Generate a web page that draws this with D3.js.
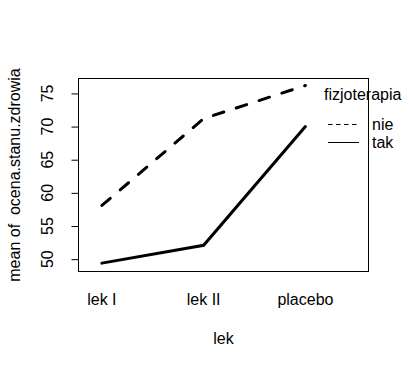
<!DOCTYPE html>
<html><head><meta charset="utf-8">
<script src="https://cdn.jsdelivr.net/npm/d3@7"></script>
<style>body{margin:0;background:#fff}svg{display:block}text{font-family:"Liberation Sans",Arial,sans-serif;font-size:16px;fill:#000}</style>
</head><body><svg id="c" width="409" height="369"></svg>
<script>
const categories = ["lek I", "lek II", "placebo"];
const seriesNames = ["nie", "tak"];
const nieValues = [58.1, 71.2, 76.2];
const takValues = [49.4, 52.1, 70.0];
const yTicks = [50, 55, 60, 65, 70, 75];
const xTitle = "lek";
const yTitle = "mean of  ocena.stanu.zdrowia";
const legendTitle = "fizjoterapia";

const svg = d3.select("#c");
const L = 78.5, R = 368.5, T = 78.5, B = 271.5;
const x = d3.scaleLinear().domain([0.77, 3.62]).range([L, R]);
const y = d3.scaleLinear().domain([48.14, 77.25]).range([B, T]);

svg.append("rect").attr("x", L).attr("y", T).attr("width", R - L).attr("height", B - T)
  .attr("fill", "none").attr("stroke", "#000").attr("stroke-width", 1);

// y axis
const yAxis = svg.append("g").attr("transform", `translate(${L},0)`)
  .call(d3.axisLeft(y).tickValues(yTicks).tickSize(7).tickSizeOuter(0).tickPadding(0));
yAxis.select(".domain").remove();
yAxis.selectAll(".tick line").attr("stroke", "#000");
yAxis.selectAll(".tick text").remove();
svg.append("g").selectAll("text").data(yTicks).join("text")
  .attr("transform", d => `translate(53,${y(d)}) rotate(-90)`)
  .attr("text-anchor", "middle").text(d => d);

// x labels
svg.append("g").selectAll("text").data(categories).join("text")
  .attr("x", (d, i) => x(i + 1)).attr("y", 305).attr("text-anchor", "middle").text(d => d);

svg.append("text").attr("x", (L + R) / 2).attr("y", 344).attr("text-anchor", "middle").text(xTitle);
svg.append("text").attr("transform", `translate(19.5,${(T + B) / 2}) rotate(-90)`)
  .attr("text-anchor", "middle").style("white-space", "pre").attr("xml:space", "preserve").text(yTitle);

const line = d3.line().x((d, i) => x(i + 1)).y(d => y(d));
svg.append("path").datum(nieValues).attr("d", line).attr("fill", "none")
  .attr("stroke", "#000").attr("stroke-width", 3).attr("stroke-dasharray", "11,13").attr("stroke-linecap", "round");
svg.append("path").datum(takValues).attr("d", line).attr("fill", "none")
  .attr("stroke", "#000").attr("stroke-width", 3).attr("stroke-linecap", "round");

// legend
svg.append("text").attr("x", 324).attr("y", 100).text(legendTitle);
const lg = svg.append("g").selectAll("g").data(seriesNames).join("g")
  .attr("transform", (d, i) => `translate(0,${i * 18})`);
lg.append("line").attr("x1", 328).attr("x2", 359).attr("y1", 124.5).attr("y2", 124.5)
  .attr("stroke", "#000").attr("stroke-width", 1).attr("stroke-dasharray", (d, i) => i === 0 ? "4.5,3.5" : null);
lg.append("text").attr("x", 372).attr("y", 130).text(d => d);
</script></body></html>
